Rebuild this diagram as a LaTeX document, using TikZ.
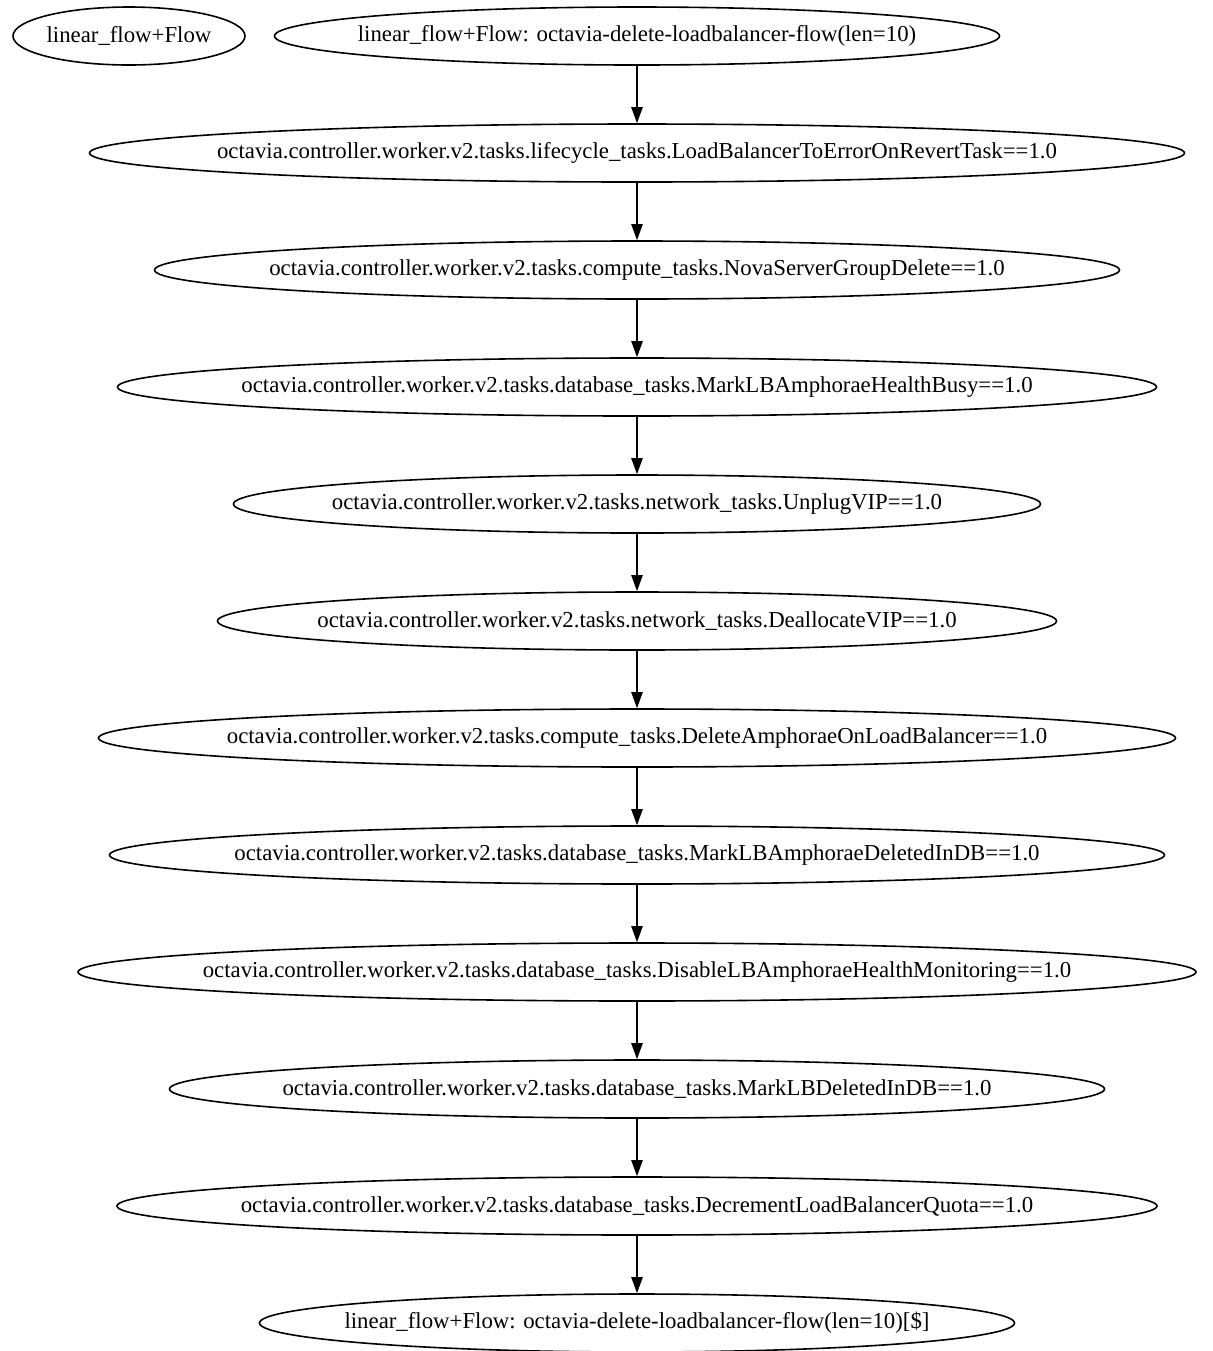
\documentclass[tikz,border=0pt]{standalone}
\usepackage{fontspec}
\setmainfont{Liberation Serif}
\usetikzlibrary{arrows.meta, shapes.geometric}

% one task of the flow: an ellipse of fixed size, its text set at its centre
\tikzset{
  flowtask/.style={draw, ellipse, line width=0.8pt, inner sep=0pt,
    minimum height=29pt, minimum width=0.5pt*#1},
  flowedge/.style={->, line width=0.8pt}
}
\newcommand{\tasklbl}[1]{\makebox[0pt]{#1}}

\begin{document}
\begin{tikzpicture}[x=0.5pt, y=-0.5pt, >={Triangle[length=8pt, width=5.6pt]},
  font=\fontsize{11.4}{13}\selectfont]

\useasboundingbox (0, 0) rectangle (1212, 1351);

%\draw[step=100, color=gray!40] (0, 0) grid (1212, 1351);

\node[flowtask=232] (flowname) at (129, 36) {\tasklbl{linear\_flow+Flow}};

\node[flowtask=725] (start) at (637, 36)
	{\tasklbl{linear\_flow+Flow: octavia-delete-loadbalancer-flow(len=10)}};

\node[flowtask=1095] (lbtoerror) at (637, 153)
	{\tasklbl{octavia.controller.worker.v2.tasks.lifecycle\_tasks.LoadBalancerToErrorOnRevertTask==1.0}};

\node[flowtask=965] (sgdelete) at (637, 270)
	{\tasklbl{octavia.controller.worker.v2.tasks.compute\_tasks.NovaServerGroupDelete==1.0}};

\node[flowtask=1039] (healthbusy) at (637, 387)
	{\tasklbl{octavia.controller.worker.v2.tasks.database\_tasks.MarkLBAmphoraeHealthBusy==1.0}};

\node[flowtask=807] (unplugvip) at (637, 504)
	{\tasklbl{octavia.controller.worker.v2.tasks.network\_tasks.UnplugVIP==1.0}};

\node[flowtask=839] (deallocvip) at (637, 621)
	{\tasklbl{octavia.controller.worker.v2.tasks.network\_tasks.DeallocateVIP==1.0}};

\node[flowtask=1077] (delamphorae) at (637, 738)
	{\tasklbl{octavia.controller.worker.v2.tasks.compute\_tasks.DeleteAmphoraeOnLoadBalancer==1.0}};

\node[flowtask=1055] (amphdeleted) at (637, 855)
	{\tasklbl{octavia.controller.worker.v2.tasks.database\_tasks.MarkLBAmphoraeDeletedInDB==1.0}};

\node[flowtask=1118] (disablehm) at (637, 972)
	{\tasklbl{octavia.controller.worker.v2.tasks.database\_tasks.DisableLBAmphoraeHealthMonitoring==1.0}};

\node[flowtask=935] (lbdeleted) at (637, 1089)
	{\tasklbl{octavia.controller.worker.v2.tasks.database\_tasks.MarkLBDeletedInDB==1.0}};

\node[flowtask=1040] (decquota) at (637, 1206)
	{\tasklbl{octavia.controller.worker.v2.tasks.database\_tasks.DecrementLoadBalancerQuota==1.0}};

\node[flowtask=755] (finish) at (637, 1323)
	{\tasklbl{linear\_flow+Flow: octavia-delete-loadbalancer-flow(len=10)[\$]}};

% the linear flow, top to bottom
\foreach \a/\b in {start/lbtoerror, lbtoerror/sgdelete, sgdelete/healthbusy,
		healthbusy/unplugvip, unplugvip/deallocvip, deallocvip/delamphorae,
		delamphorae/amphdeleted, amphdeleted/disablehm, disablehm/lbdeleted,
		lbdeleted/decquota, decquota/finish}
	\draw[flowedge] (\a) -- (\b);

\end{tikzpicture}
\end{document}
